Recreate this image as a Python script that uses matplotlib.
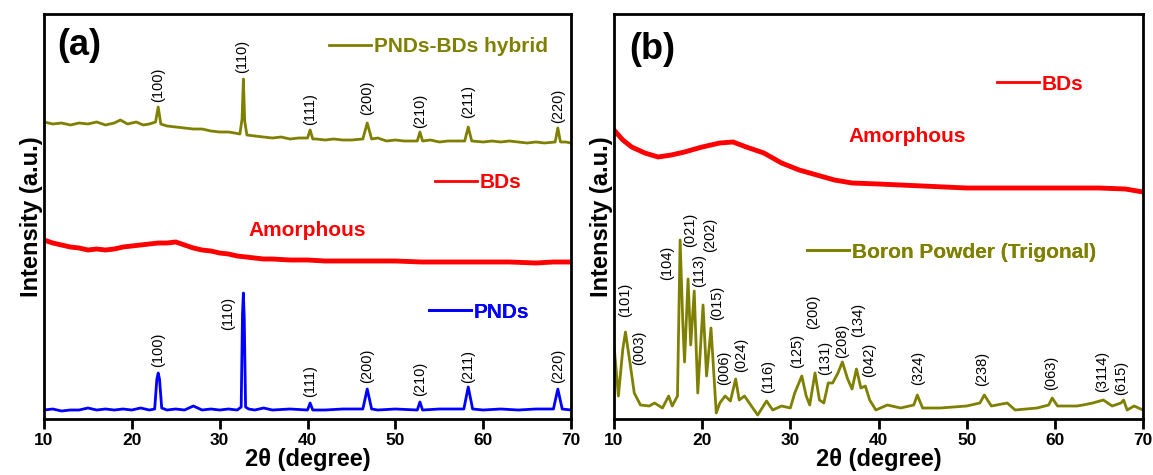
import numpy as np
import matplotlib.pyplot as plt
from matplotlib.lines import Line2D

plt.rcParams['font.family'] = ['Liberation Sans', 'DejaVu Sans']

# ---- panel (a) traces (2theta, intensity a.u.) ----
hyb_x = [10, 11, 12, 13, 14, 15, 16, 17, 18, 18.7, 19.5, 20.5, 21.3, 22, 22.7, 23.0, 23.3,
         24, 25, 26, 27, 28, 29, 30, 31, 31.7, 32.3, 32.55, 32.7, 32.85, 33.1, 34, 35, 36,
         37, 38, 39, 40.0, 40.3, 40.6, 41, 42, 43, 44, 45, 46.3, 46.8, 47.3, 48, 49, 50, 51,
         52.5, 52.8, 53.1, 54, 55, 56, 57.9, 58.3, 58.7, 60, 61, 62, 63, 64, 65, 66, 67,
         68.2, 68.5, 68.8, 69.4, 70]
hyb_y = [297, 295, 296, 294, 296, 295, 297, 294, 296, 299, 295, 297, 294, 295, 297, 312, 295,
         293, 292, 291, 290, 290, 288, 287, 287, 286, 285, 300, 340, 298, 284, 283, 282, 281,
         282, 280, 281, 281, 289, 280, 280, 279, 280, 279, 279, 280, 296, 280, 281, 278, 279,
         278, 278, 287, 278, 279, 277, 278, 278, 292, 278, 277, 278, 277, 278, 277, 276, 277,
         276, 277, 291, 277, 277, 276]

bd_a_x = [10, 11, 12, 13, 14, 15, 16, 17, 18, 19, 20, 21, 22, 23, 24, 25, 26, 27, 28,
          29, 30, 31, 32, 33, 34, 35, 36, 38, 40, 42, 45, 48, 50, 53, 56, 60, 63, 66, 68, 70]
bd_a_y = [179, 176, 174, 172, 171, 169, 170, 169, 170, 172, 173, 174, 175, 176, 176, 177, 174,
          171, 169, 168, 166, 165, 163, 162, 161, 160, 160, 159, 159, 158, 158, 158, 158, 157,
          157, 157, 157, 156, 157, 157]

pnd_x = [10, 11, 12, 13, 14, 15, 16, 17, 18, 19, 20, 21, 22, 22.6, 22.85, 23.0, 23.15,
         23.4, 24, 25, 26, 27, 28, 29, 30, 31, 32, 32.45, 32.6, 32.7, 32.8, 32.95, 33.3, 34,
         35, 36, 38, 40.0, 40.3, 40.6, 42, 44, 46.3, 46.8, 47.3, 48, 50, 52.5, 52.8, 53.1,
         55, 57.8, 58.3, 58.8, 60, 62, 64, 66, 68.0, 68.5, 69.0, 70]
pnd_y = [9, 10, 8, 9, 9, 11, 9, 10, 9, 10, 9, 11, 9, 10, 40, 46, 40, 11, 9, 10, 9, 13, 9,
         10, 9, 10, 9, 12, 105, 126, 100, 12, 10, 9, 11, 9, 10, 9, 16, 9, 9, 10, 10, 30,
         10, 9, 10, 9, 17, 9, 10, 10, 32, 10, 9, 10, 9, 10, 10, 30, 10, 9]

hyb_hkl = ["(100)", "(110)", "(111)", "(200)", "(210)", "(211)", "(220)"]
hyb_lab_x = [23.0, 32.6, 40.3, 46.8, 52.8, 58.3, 68.5]
hyb_lab_y = [317, 346, 294, 304, 291, 301, 296]
pnd_lab_x = [23.0, 31.0, 40.3, 46.8, 52.8, 58.3, 68.5]
pnd_lab_y = [52, 89, 22, 36, 23, 36, 36]

# ---- panel (b) traces ----
bd_b_x = [10, 11, 12, 13.5, 15, 16.5, 18, 20, 22, 23.5, 25, 27, 29, 31, 33, 35, 37, 40,
          45, 50, 55, 60, 65, 68, 70]
bd_b_y = [289, 279, 272, 266, 262, 264, 267, 272, 276, 277, 272, 266, 256, 249, 244, 239,
          236, 235, 233, 231, 231, 231, 231, 230, 227]

boron_x = [10, 10.5, 11.0, 11.3, 11.8, 12.3, 13, 14, 14.6, 15.5, 16.2, 16.6, 17.2, 17.5,
           17.8, 18.0, 18.4, 18.7, 19.1, 19.5, 20.1, 20.5, 21.0, 21.6, 22.0, 22.6, 23.2,
           23.8, 24.2, 24.8, 25.5, 26.3, 27.3, 28, 29, 30, 30.5, 31.3, 31.8, 32.2, 32.8,
           33.3, 33.8, 34.3, 34.8, 35.4, 35.9, 36.5, 37.0, 37.5, 38.0, 38.5, 39.0, 39.7,
           41, 42.5, 44.0, 44.4, 45, 47, 50, 51.5, 52.0, 52.8, 54.6, 55.5, 58, 59.3, 59.7,
           60.3, 62.5, 63.2, 64.3, 65.5, 66.5, 67.5, 67.8, 68.2, 69, 70]
boron_y = [74, 23, 70, 87, 57, 26, 14, 13, 16, 11, 23, 13, 23, 179,
           97, 57, 140, 74, 128, 26, 114, 43, 91, 6, 16, 23, 18,
           40, 19, 23, 14, 4, 18, 9, 13, 11, 26, 43, 23, 14, 46,
           19, 16, 36, 36, 46, 57, 40, 30, 50, 31, 33, 19, 9,
           14, 11, 14, 24, 11, 11, 13, 16, 24, 13, 16, 9, 11, 14, 21,
           13, 13, 14, 16, 19, 13, 16, 19, 9, 13, 9]

boron_hkl = ["(101)", "(003)", "(104)", "(021)", "(113)", "(202)", "(015)", "(006)",
             "(024)", "(116)", "(125)", "(200)", "(131)", "(208)", "(134)", "(042)",
             "(324)", "(238)", "(063)", "(3114)", "(615)"]
boron_lab_x = [11.3, 12.8, 16.0, 18.6, 19.6, 20.9, 21.7, 22.5, 24.4, 27.5, 30.8, 32.6,
               34.0, 35.9, 37.7, 38.9, 44.5, 51.8, 59.6, 65.4, 67.5]
boron_lab_y = [102, 54, 139, 172, 132, 167, 99, 34, 47, 26, 51, 90, 44, 61, 82, 42,
               34, 33, 29, 27, 24]

olive = "#808000"
red = "#ff0000"
blue = "#0000ff"

fig = plt.figure(figsize=(11.53, 4.75), dpi=100)
ax1 = fig.add_axes([44/1153, 56/475, 527/1153, 405/475])
ax2 = fig.add_axes([614/1153, 56/475, 529/1153, 405/475])


def style(ax):
    ax.set_xlim(10, 70)
    ax.set_ylim(0, 405)
    ax.set_yticks([])
    ax.set_xticks([10, 20, 30, 40, 50, 60, 70])
    ax.tick_params(axis="x", direction="out", length=7, width=2, labelsize=12.5, pad=3)
    for lab in ax.get_xticklabels():
        lab.set_fontweight("bold")
    for s in ax.spines.values():
        s.set_linewidth(2)
    ax.set_xlabel("2\u03b8 (degree)", fontsize=17, fontweight="bold", labelpad=0)
    ax.set_ylabel("Intensity (a.u.)", fontsize=17, fontweight="bold", labelpad=1)


def add_leg(ax, label, color, x, y):
    handle = Line2D([], [], color=color, lw=2)
    leg = ax.legend(handles=[handle], labels=[label], loc="center left",
                    bbox_to_anchor=(x, y), frameon=False, borderpad=0, borderaxespad=0,
                    handlelength=2.0, handletextpad=0.15,
                    prop={"size": 15, "weight": "bold"}, labelcolor=color)
    ax.add_artist(leg)


# panel (a)
ax1.plot(hyb_x, hyb_y, color=olive, lw=2)
ax1.plot(bd_a_x, bd_a_y, color=red, lw=3.5)
ax1.plot(pnd_x, pnd_y, color=blue, lw=2)
for t, x, y in zip(hyb_hkl, hyb_lab_x, hyb_lab_y):
    ax1.text(x, y, t, rotation=90, ha="center", va="bottom", fontsize=10.5)
for t, x, y in zip(hyb_hkl, pnd_lab_x, pnd_lab_y):
    ax1.text(x, y, t, rotation=90, ha="center", va="bottom", fontsize=10.5)
ax1.text(40.0, 189, "Amorphous", color=red, fontsize=15, fontweight="bold",
         ha="center", va="center")
add_leg(ax1, "PNDs-BDs hybrid", olive, 0.541, 0.919)
add_leg(ax1, "BDs", red, 0.742, 0.583)
add_leg(ax1, "PNDs", blue, 0.731, 0.264)
ax1.text(0.025, 0.965, "(a)", transform=ax1.transAxes, fontsize=26, fontweight="bold",
         ha="left", va="top")
style(ax1)

# panel (b)
ax2.plot(bd_b_x, bd_b_y, color=red, lw=3.5)
ax2.plot(boron_x, boron_y, color=olive, lw=2)
for t, x, y in zip(boron_hkl, boron_lab_x, boron_lab_y):
    ax2.text(x, y, t, rotation=90, ha="center", va="bottom", fontsize=10.5)
ax2.text(43.3, 282, "Amorphous", color=red, fontsize=15, fontweight="bold",
         ha="center", va="center")
add_leg(ax2, "BDs", red, (997 - 614)/529, (419 - 84)/405)
add_leg(ax2, "Boron Powder (Trigonal)", olive, (807 - 614)/529, (419 - 252)/405)
ax2.text(0.028, 0.955, "(b)", transform=ax2.transAxes, fontsize=26, fontweight="bold",
         ha="left", va="top")
style(ax2)

fig.savefig("out.png", dpi=100)
